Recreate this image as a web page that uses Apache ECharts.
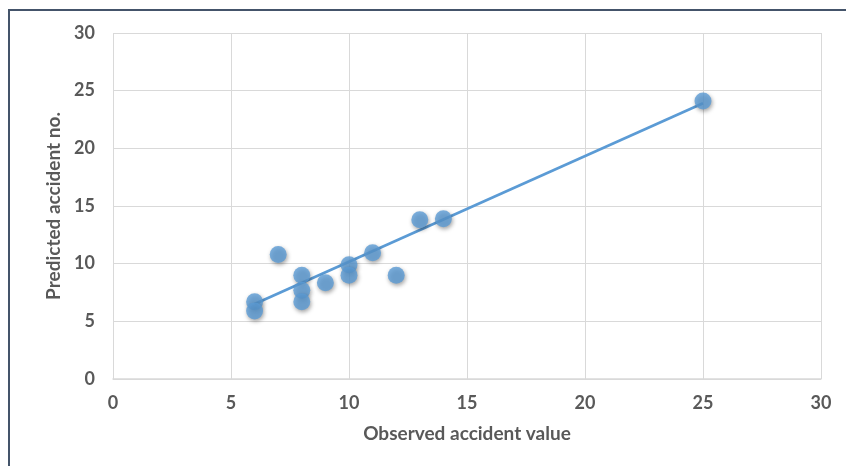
<!DOCTYPE html>
<html>
<head>
<meta charset="utf-8">
<script src="https://cdn.jsdelivr.net/npm/echarts@6/dist/echarts.min.js"></script>
<style>
html,body{margin:0;padding:0;background:#fff;}
#c{width:846px;height:466px;}
</style>
</head>
<body>
<div id="c"></div>
<script>
var observed = [6, 6, 7, 8, 8, 8, 9, 10, 10, 11, 12, 13, 14, 25];
var predicted = [6.7, 5.9, 10.8, 9.0, 7.7, 6.7, 8.35, 9.9, 9.0, 10.95, 9.0, 13.8, 13.9, 24.1];
var trendX = [6, 25];
var trendY = [6.5, 23.9];
var xTitle = 'Observed accident value';
var yTitle = 'Predicted accident no.';

var points = observed.map(function (x, i) { return [x, predicted[i]]; });
var trend = trendX.map(function (x, i) { return [x, trendY[i]]; });

var chart = echarts.init(document.getElementById('c'));
var tickFont = { color: '#595959', fontFamily: 'Lato', fontWeight: 'bold', fontSize: 18 };
var titleFont = { color: '#595959', fontFamily: 'Lato', fontWeight: 'bold', fontSize: 19 };
chart.setOption({
  animation: false,
  grid: { left: 113, right: 25, top: 33, bottom: 87 },
  graphic: [{
    type: 'rect', z: -1,
    shape: { x: 9, y: 10, width: 900, height: 500 },
    style: { fill: 'none', stroke: '#44546a', lineWidth: 2 }
  }],
  xAxis: {
    type: 'value', min: 0, max: 30, interval: 5,
    name: xTitle, nameLocation: 'middle', nameGap: 45,
    nameTextStyle: titleFont,
    axisLine: { show: true, lineStyle: { color: '#d9d9d9', width: 1.5 } },
    axisTick: { show: false },
    axisLabel: Object.assign({ margin: 15 }, tickFont),
    splitLine: { show: true, lineStyle: { color: '#d9d9d9', width: 1 } }
  },
  yAxis: {
    type: 'value', min: 0, max: 30, interval: 5,
    name: yTitle, nameLocation: 'middle', nameGap: 48,
    nameTextStyle: titleFont,
    axisLine: { show: false },
    axisTick: { show: false },
    axisLabel: Object.assign({ margin: 18 }, tickFont),
    splitLine: { show: true, lineStyle: { color: '#d9d9d9', width: 1 } }
  },
  series: [{
    type: 'line',
    data: trend,
    symbol: 'none',
    lineStyle: { color: '#5b9bd5', width: 2.75 },
    z: 2
  }, {
    type: 'scatter',
    data: points,
    symbolSize: 17,
    itemStyle: {
      color: '#5b9bd5',
      shadowColor: 'rgba(0,0,0,0.45)',
      shadowBlur: 4,
      shadowOffsetX: 1,
      shadowOffsetY: 2
    },
    z: 3
  }]
});
</script>
</body>
</html>
